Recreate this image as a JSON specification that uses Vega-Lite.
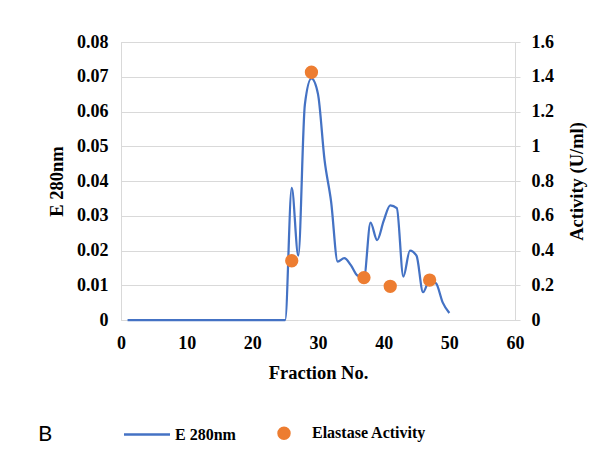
{
  "$schema": "https://vega.github.io/schema/vega-lite/v6.json",
  "width": 394,
  "height": 278,
  "autosize": {"type": "none"},
  "padding": {"left": 121, "top": 42, "right": 88, "bottom": 139},
  "background": "white",
  "datasets": {
    "absorbance": [
      {"fraction": 1, "e280": 0}, {"fraction": 2, "e280": 0}, {"fraction": 3, "e280": 0}, {"fraction": 4, "e280": 0},
      {"fraction": 5, "e280": 0}, {"fraction": 6, "e280": 0}, {"fraction": 7, "e280": 0}, {"fraction": 8, "e280": 0},
      {"fraction": 9, "e280": 0}, {"fraction": 10, "e280": 0}, {"fraction": 11, "e280": 0}, {"fraction": 12, "e280": 0},
      {"fraction": 13, "e280": 0}, {"fraction": 14, "e280": 0}, {"fraction": 15, "e280": 0}, {"fraction": 16, "e280": 0},
      {"fraction": 17, "e280": 0}, {"fraction": 18, "e280": 0}, {"fraction": 19, "e280": 0}, {"fraction": 20, "e280": 0},
      {"fraction": 21, "e280": 0}, {"fraction": 22, "e280": 0}, {"fraction": 23, "e280": 0}, {"fraction": 24, "e280": 0},
      {"fraction": 25, "e280": 0}, {"fraction": 26, "e280": 0.038}, {"fraction": 27, "e280": 0.0185}, {"fraction": 28, "e280": 0.062},
      {"fraction": 29, "e280": 0.0695}, {"fraction": 30, "e280": 0.065}, {"fraction": 31, "e280": 0.046}, {"fraction": 32, "e280": 0.034},
      {"fraction": 33, "e280": 0.0168}, {"fraction": 34, "e280": 0.0178}, {"fraction": 35, "e280": 0.0158}, {"fraction": 36, "e280": 0.0128},
      {"fraction": 37, "e280": 0.0122}, {"fraction": 38, "e280": 0.028}, {"fraction": 39, "e280": 0.023}, {"fraction": 40, "e280": 0.0285},
      {"fraction": 41, "e280": 0.033}, {"fraction": 42, "e280": 0.0322}, {"fraction": 43, "e280": 0.0125}, {"fraction": 44, "e280": 0.02},
      {"fraction": 45, "e280": 0.0185}, {"fraction": 46, "e280": 0.008}, {"fraction": 47, "e280": 0.0115}, {"fraction": 48, "e280": 0.0105},
      {"fraction": 49, "e280": 0.005}, {"fraction": 50, "e280": 0.002}
    ],
    "activity": [
      {"fraction": 26, "activity": 0.341},
      {"fraction": 29, "activity": 1.426},
      {"fraction": 37, "activity": 0.244},
      {"fraction": 41, "activity": 0.194},
      {"fraction": 47, "activity": 0.23}
    ]
  },
  "config": {
    "view": {"stroke": "#d9d9d9"},
    "axis": {
      "labelFont": "Liberation Serif", "labelFontSize": 18, "labelFontWeight": "bold", "labelColor": "#000000",
      "titleFont": "Liberation Serif", "titleFontSize": 18.5, "titleFontWeight": "bold", "titleColor": "#000000",
      "domainColor": "#d9d9d9", "tickColor": "#d9d9d9", "gridColor": "#d9d9d9", "gridWidth": 1
    }
  },
  "layer": [
    {
      "data": {"name": "absorbance"},
      "mark": {"type": "line", "interpolate": "monotone", "strokeWidth": 2.25},
      "encoding": {
        "x": {
          "field": "fraction", "type": "quantitative",
          "scale": {"domain": [0, 60], "nice": false},
          "axis": {"title": "Fraction No.", "values": [0, 10, 20, 30, 40, 50, 60], "grid": false, "ticks": false,
                   "labelFlush": false, "labelPadding": 14, "titleY": 58, "titleBaseline": "alphabetic"}
        },
        "y": {
          "field": "e280", "type": "quantitative",
          "scale": {"domain": [0, 0.08], "nice": false},
          "axis": {"title": "E 280nm", "values": [0, 0.01, 0.02, 0.03, 0.04, 0.05, 0.06, 0.07, 0.08], "format": "~g",
                   "ticks": false, "labelPadding": 13, "grid": true, "labelFlush": false,
                   "titleAngle": 270, "titleX": -59, "titleY": 139, "titleBaseline": "alphabetic", "titleAlign": "center"}
        },
        "color": {
          "datum": "E 280nm",
          "scale": {"domain": ["E 280nm", "Elastase Activity"], "range": ["#4472c4", "#ed7d31"]},
          "legend": {
            "orient": "none", "legendX": -83, "legendY": 383, "direction": "horizontal",
            "title": "B", "titleOrient": "left", "titleFont": "Lato", "titleFontSize": 22, "titleFontWeight": "normal",
            "titleColor": "#000000", "titlePadding": 86, "titleBaseline": "middle", "titleAnchor": "middle",
            "labelFont": "Liberation Serif", "labelFontSize": 16, "labelFontWeight": "bold", "labelColor": "#000000",
            "labelOffset": 20, "columnPadding": 37, "symbolSize": 120, "symbolStrokeWidth": 2.5,
            "encode": {
              "symbols": {
                "update": {
                  "shape": {"signal": "datum.value === 'E 280nm' ? 'M-4.2,0H4.2' : 'circle'"},
                  "size": {"value": 120},
                  "fill": {"signal": "datum.value === 'E 280nm' ? 'transparent' : '#ed7d31'"},
                  "stroke": {"signal": "datum.value === 'E 280nm' ? '#4472c4' : 'transparent'"},
                  "strokeWidth": {"value": 2.5},
                  "opacity": {"value": 1}
                }
              }
            }
          }
        }
      }
    },
    {
      "data": {"name": "activity"},
      "mark": {"type": "circle", "size": 177, "opacity": 1},
      "encoding": {
        "x": {"field": "fraction", "type": "quantitative"},
        "y": {
          "field": "activity", "type": "quantitative",
          "scale": {"domain": [0, 1.6], "nice": false},
          "axis": {"title": "Activity (U/ml)", "orient": "right", "values": [0, 0.2, 0.4, 0.6, 0.8, 1, 1.2, 1.4, 1.6], "format": "~g",
                   "grid": false, "ticks": true, "tickSize": 5, "labelPadding": 11, "labelFlush": false,
                   "titleAngle": 270, "titleX": 67, "titleY": 139, "titleBaseline": "alphabetic", "titleAlign": "center"}
        },
        "color": {"datum": "Elastase Activity"}
      }
    }
  ],
  "resolve": {"scale": {"y": "independent"}}
}
